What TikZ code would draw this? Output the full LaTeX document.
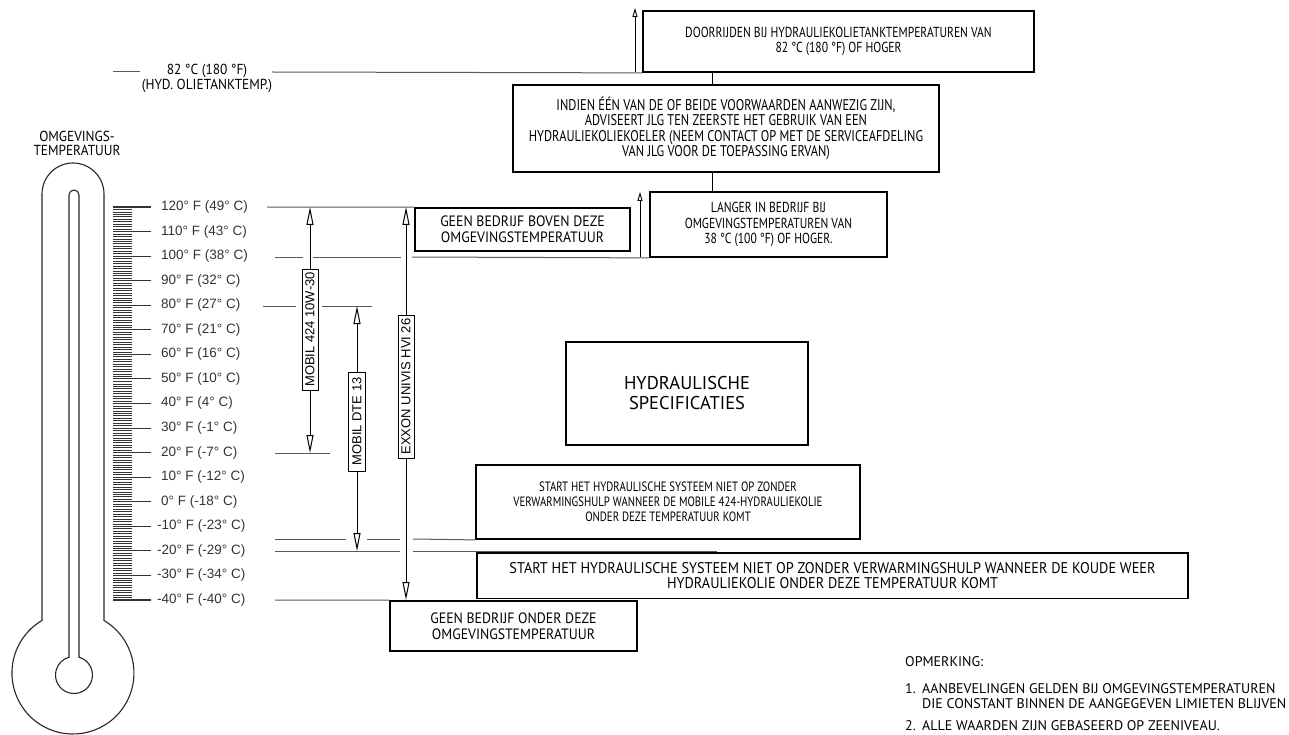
\documentclass[tikz,border=0pt]{standalone}
\usepackage{fontspec}
\setmainfont{Liberation Sans}
\newfontfamily\cond{PT Sans}[FakeStretch=0.8]
\newfontfamily\condb{PT Sans}[FakeStretch=0.92]
\newfontfamily\notef{PT Sans}
\usetikzlibrary{arrows.meta}
\definecolor{lvl}{gray}{0.35}
\definecolor{labc}{gray}{0.2}
\tikzset{
  box/.style={draw, line width=1.8pt, inner sep=0pt, align=center,
    font=\cond\fontsize{14.5}{15.5}\selectfont},
  bigbox/.style={box, font=\condb\fontsize{15}{16}\selectfont},
  tag/.style={draw, line width=1pt, fill=white, rotate=90, inner sep=0pt,
    font=\fontsize{13}{13}\selectfont},
  txt/.style={inner sep=0pt, align=center, font=\condb\fontsize{14.5}{13.5}\selectfont},
  note/.style={inner sep=0pt, anchor=west, font=\notef\fontsize{14}{14}\selectfont},
  dimarr/.style={line width=1pt, {Triangle[open,length=18pt,width=7pt]}-{Triangle[open,length=18pt,width=7pt]}},
  uparr/.style={line width=0.9pt, -{Triangle[open,length=9pt,width=5pt]}},
  lvline/.style={draw=lvl, line width=1pt},
  thermo/.style={line width=1.1pt, draw=black!85},
  major/.style={line width=1.1pt, draw=black!80},
  minor/.style={line width=0.7pt, draw=black!80},
  scalelab/.style={inner sep=0pt, anchor=west, text=labc, font=\fontsize{13.5}{13.5}\selectfont}
}
\begin{document}
\begin{tikzpicture}[x=1pt,y=-1pt]
\useasboundingbox (0,0) rectangle (1289,735);

% thermometer
\draw[thermo] (42,620.5) -- (42,194) arc[start angle=180,end angle=360,radius=31]
  -- (104,620.5) arc[start angle=-59.4,end angle=239.4,radius=61] -- cycle;
\draw[thermo] (69,657.2) -- (69,195) arc[start angle=180,end angle=360,radius=5]
  -- (79,657.2) arc[start angle=-74.3,end angle=254.3,radius=18.5] -- cycle;
\node[txt] (omg) at (77,143.5) {OMGEVINGS-\\TEMPERATUUR};

% scale ticks
\foreach \t in {-40,...,120}{
  \pgfmathsetmacro{\yy}{207+(120-\t)*2.45625}
  \pgfmathtruncatemacro{\m}{mod(abs(\t),10)}
  \ifnum\m=0
    \draw[major] (113,\yy) -- (151,\yy);
  \else
    \draw[minor] (113,\yy) -- (132,\yy);
  \fi
}
\foreach \t/\c in {120/49,110/43,100/38,90/32,80/27,70/21,60/16,50/10,40/4,30/-1,20/-7,10/-12,0/-18,-10/-23,-20/-29,-30/-34,-40/-40}{
  \pgfmathsetmacro{\yy}{207+(120-\t)*2.45625}
  \pgfmathsetmacro{\xx}{\t<0 ? 157 : 161}
  \node[scalelab] (s\t) at (\xx,\yy) {\t° F (\c° C)};
}

% boxes
\node[box, minimum width=391, minimum height=61] (door) at (838.5,41.5)
  {DOORRIJDEN BIJ HYDRAULIEKOLIETANKTEMPERATUREN VAN\\82 °C (180 °F) OF HOGER};
\node[box, minimum width=426, minimum height=87, font=\cond\fontsize{15.5}{15.5}\selectfont] (indien) at (726,128.5)
  {INDIEN ÉÉN VAN DE OF BEIDE VOORWAARDEN AANWEZIG ZIJN,\\ADVISEERT JLG TEN ZEERSTE HET GEBRUIK VAN EEN\\HYDRAULIEKOLIEKOELER (NEEM CONTACT OP MET DE SERVICEAFDELING\\VAN JLG VOOR DE TOEPASSING ERVAN)};
\node[box, minimum width=237, minimum height=65] (langer) at (768.5,224.5)
  {LANGER IN BEDRIJF BIJ\\OMGEVINGSTEMPERATUREN VAN\\38 °C (100 °F) OF HOGER.};
\node[bigbox, minimum width=215, minimum height=43] (geenb) at (522.5,229.5)
  {GEEN BEDRIJF BOVEN DEZE\\OMGEVINGSTEMPERATUUR};
\node[box, minimum width=242, minimum height=103, font=\notef\fontsize{18.5}{20}\selectfont] (hyd) at (687,393.5)
  {HYDRAULISCHE\\SPECIFICATIES};
\node[box, minimum width=384, minimum height=74, font=\cond\fontsize{13.5}{15}\selectfont] (start1) at (668,502)
  {START HET HYDRAULISCHE SYSTEEM NIET OP ZONDER\\VERWARMINGSHULP WANNEER DE MOBILE 424-HYDRAULIEKOLIE\\ONDER DEZE TEMPERATUUR KOMT};
\node[box, minimum width=711, minimum height=45.5, font=\condb\fontsize{15.5}{15.5}\selectfont] (start2) at (832.5,575.75)
  {START HET HYDRAULISCHE SYSTEEM NIET OP ZONDER VERWARMINGSHULP WANNEER DE KOUDE WEER\\HYDRAULIEKOLIE ONDER DEZE TEMPERATUUR KOMT};
\node[bigbox, minimum width=247, minimum height=50] (geeno) at (513.5,626)
  {GEEN BEDRIJF ONDER DEZE\\OMGEVINGSTEMPERATUUR};

% box connectors
\coordinate (cx) at (712,0);
\draw[line width=1pt] (door.south -| cx) -- (indien.north -| cx);
\draw[line width=1pt] (indien.south -| cx) -- (langer.north -| cx);

% 82 C line
\node[txt] (tank) at (207,78.5) {82 °C (180 °F)\\(HYD. OLIETANKTEMP.)};
\draw[lvline] (113,72) -- (140,72);
\draw[lvline] (272,72) -- (door.south west);
\coordinate (ta) at (635,72);
\coordinate (tb) at (635,8);
\draw[uparr] (ta) -- (tb);

% level lines
\draw[lvline] (267,207) -- (geenb.north west);
\draw[lvline] (275,257) -- (303,257);
\draw[lvline] (313,257) -- (401,257);
\draw[lvline] (412,257) -- (langer.south west);
\coordinate (la) at (640,257);
\coordinate (lb) at (640,192);
\draw[uparr] (la) -- (lb);
\draw[lvline] (263,306) -- (296,306);
\draw[lvline] (322,306) -- (372,306);
\draw[lvline] (275,453) -- (330,453);
\draw[lvline] (275,539) -- (346,539);
\draw[lvline] (367,539) -- (400,539);
\draw[lvline] (413,539) -- (start1.south west);
\draw[lvline] (275,551) -- (400,551);
\draw[lvline] (413,551) -- (717,551);
\draw[lvline] (275,600) -- (geeno.north west);

% oil range arrows
\coordinate (m1t) at (310,207);
\coordinate (m1b) at (310,453);
\coordinate (m2t) at (357,306);
\coordinate (m2b) at (357,551);
\coordinate (m3t) at (406,207);
\coordinate (m3b) at (406,600);
\draw[dimarr] (m1t) -- (m1b);
\draw[dimarr] (m2t) -- (m2b);
\draw[dimarr] (m3t) -- (m3b);
\node[tag, minimum width=121, minimum height=16] (t1) at (310,329.5) {MOBIL 424 10W-30};
\node[tag, minimum width=99, minimum height=17] (t2) at (357,421.5) {MOBIL DTE 13};
\node[tag, minimum width=143, minimum height=16] (t3) at (406,386.5) {EXXON UNIVIS HVI 26};

% notes
\node[note] (opm) at (905,662) {OPMERKING:};
\node[note] (n1) at (905,689) {1.};
\node[note] (n1a) at (922,689) {AANBEVELINGEN GELDEN BIJ OMGEVINGSTEMPERATUREN};
\node[note] (n1b) at (922,704) {DIE CONSTANT BINNEN DE AANGEGEVEN LIMIETEN BLIJVEN};
\node[note] (n2) at (905,726) {2.};
\node[note] (n2a) at (922,726) {ALLE WAARDEN ZIJN GEBASEERD OP ZEENIVEAU.};
\end{tikzpicture}
\end{document}
